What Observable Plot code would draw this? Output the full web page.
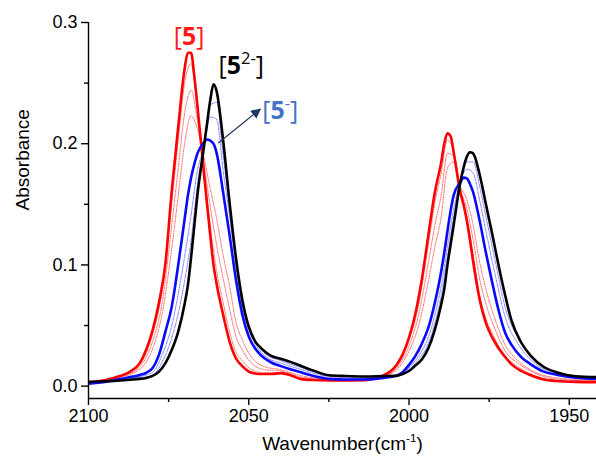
<!DOCTYPE html>
<html><head><meta charset="utf-8">
<script src="https://cdn.jsdelivr.net/npm/d3@7"></script>
<script src="https://cdn.jsdelivr.net/npm/@observablehq/plot@0.6"></script>
<style>
html,body{margin:0;padding:0;background:#fff;}
#chart{width:596px;height:460px;}
</style></head><body><div id="chart"></div>
<script>
// ---- data ----
const wavenumber = [2100,2095,2090,2087,2084,2082,2080,2078,2076,2074,2072,2070,2069,2068,2067,2066,2064,2063,2062,2061,2060,2058,2056,2054,2052,2050,2048,2046,2043,2040,2037,2034,2030,2025,2020,2014,2008,2004,2002,2000,1998,1996,1994,1992,1990,1989,1988,1987,1986,1984,1983,1982,1981,1980,1978,1976,1974,1972,1970,1968,1965,1962,1958,1954,1948,1941];
const abs5 = [.003,.0048,.0085,.012,.019,.030,.046,.069,.101,.162,.214,.262,.275,.275,.256,.231,.176,.150,.124,.100,.084,.059,.037,.023,.0165,.012,.0105,.010,.010,.0107,.009,.006,.005,.0047,.0047,.005,.0088,.017,.026,.040,.060,.088,.124,.159,.184,.200,.2085,.206,.192,.160,.150,.137,.121,.103,.072,.052,.040,.031,.024,.018,.0125,.009,.0055,.0042,.0035,.0033];
const abs5m = [.002,.0035,.0058,.0075,.0092,.011,.015,.026,.045,.066,.100,.138,.157,.172,.183,.192,.201,.2035,.2025,.200,.192,.160,.125,.088,.059,.041,.031,.025,.0195,.0165,.014,.0116,.0085,.006,.0055,.0055,.0068,.0085,.0115,.0175,.025,.035,.048,.068,.094,.110,.128,.145,.158,.168,.172,.1715,.167,.160,.137,.110,.085,.062,.044,.034,.024,.018,.012,.0095,.007,.006];
const abs52 = [.0035,.004,.0047,.0053,.006,.0068,.0085,.012,.019,.030,.045,.068,.083,.106,.132,.158,.197,.217,.236,.249,.243,.203,.152,.106,.071,.049,.037,.031,.025,.0225,.020,.017,.013,.009,.0084,.008,.0083,.0085,.010,.0125,.017,.022,.031,.046,.067,.080,.100,.117,.134,.168,.180,.189,.193,.192,.175,.150,.125,.099,.075,.054,.036,.025,.016,.0115,.0082,.0074];

const wavenumberDotted = [2100,2090,2084,2080,2077,2074,2072,2070,2068,2066,2064,2062,2060,2058,2056,2054,2052,2049,2045,2040,2034,2026,2016,2008,2003,2000,1997,1994,1992,1990,1988,1986,1984,1982,1980,1978,1976,1973,1970,1966,1961,1954,1941];
const redDotted1 = [.003,.0082,.018,.043,.079,.152,.203,.250,.266,.227,.179,.132,.095,.069,.045,.028,.021,.0135,.011,.011,.0066,.0049,.0049,.0088,.021,.038,.067,.116,.150,.175,.203,.193,.161,.140,.109,.075,.056,.038,.025,.016,.009,.0047,.0036];
const redDotted2 = [.0027,.0077,.016,.037,.069,.133,.180,.225,.244,.219,.184,.148,.116,.089,.064,.041,.030,.0185,.0136,.0125,.0077,.0054,.005,.0083,.018,.033,.059,.101,.132,.157,.192,.190,.163,.147,.121,.089,.068,.046,.029,.019,.011,.0058,.0041];
const redDotted3 = [.0025,.0072,.014,.031,.060,.114,.157,.200,.223,.212,.189,.163,.138,.108,.083,.053,.038,.0235,.016,.0136,.0088,.0059,.0052,.0079,.016,.029,.050,.086,.114,.139,.180,.185,.165,.154,.133,.103,.080,.054,.034,.021,.012,.0069,.0047];
const blueDotted1 = [.0027,.0053,.0079,.0114,.026,.050,.076,.107,.141,.178,.197,.222,.220,.178,.1405,.098,.066,.0405,.025,.019,.014,.0083,.0066,.0076,.0095,.015,.025,.040,.058,.082,.115,.147,.1685,.179,.176,.154,.128,.0905,.057,.035,.0195,.0104,.0066];
const blueDotted2 = [.0031,.005,.0069,.009,.020,.040,.060,.087,.120,.166,.197,.232,.234,.191,.146,.103,.068,.0435,.027,.021,.0156,.0092,.0074,.0081,.0092,.0137,.022,.035,.0515,.074,.107,.140,.168,.185,.185,.1655,.140,.102,.065,.040,.0215,.011,.0071];

const xTicks = [2100, 2050, 2000, 1950];
const xMinorTicks = [2075, 2025, 1975];
const yTicks = [0, 0.1, 0.2, 0.3];
const yMinorTicks = [0.05, 0.15, 0.25];
const xDomain = [2100, 1941.5];
const yDomain = [-0.0102, 0.3];

const labelText = ["[5]", "[5²⁻]", "[5⁻]"];
const labelX = [2068.6, 2059.4, 2045.8];
const labelY = [0.288, 0.2638, 0.2266];
const labelColor = ["#ff1a1a", "#000000", "#4472c4"];
const arrowFrom = [2059.5, 0.2006];
const arrowTo = [2046.4, 0.2286];
const xTitle = "Wavenumber(cm⁻¹)";
const yTitle = "Absorbance";

// ---- build tables ----
const series = (xs, ys) => xs.map((x, i) => ({x, y: ys[i]}));
const solid = [
  {d: series(wavenumber, abs5), c: "#ff0000"},
  {d: series(wavenumber, abs5m), c: "#0a0aff"},
  {d: series(wavenumber, abs52), c: "#000000"}
];
const dotted = [
  {d: series(wavenumberDotted, redDotted1), c: "#ff4d4d"},
  {d: series(wavenumberDotted, redDotted2), c: "#ff4d4d"},
  {d: series(wavenumberDotted, redDotted3), c: "#ff4d4d"},
  {d: series(wavenumberDotted, blueDotted1), c: "#5a5aff"},
  {d: series(wavenumberDotted, blueDotted2), c: "#5a5aff"}
];
const labels = labelText.map((t, i) => ({t, x: labelX[i], y: labelY[i], c: labelColor[i]}));

const FONT = "'Liberation Sans', Arial, sans-serif";
const plot = Plot.plot({
  width: 596, height: 460,
  marginLeft: 88, marginRight: 0, marginTop: 22, marginBottom: 62,
  style: {fontFamily: FONT, fontSize: "18px", background: "#fff", color: "#000", overflow: "visible"},
  x: {domain: xDomain},
  y: {domain: yDomain},
  marks: [
    ...dotted.map(s => Plot.line(s.d, {x: "x", y: "y", stroke: s.c, strokeWidth: 1, strokeDasharray: "1.2,1.3", strokeOpacity: 0.85, curve: "monotone-x", clip: true})),
    ...solid.map(s => Plot.line(s.d, {x: "x", y: "y", stroke: s.c, strokeWidth: 2.6, curve: "monotone-x", clip: true})),
    Plot.ruleX([xDomain[0]], {stroke: "#000", strokeWidth: 1.4}),
    Plot.ruleY([yDomain[0]], {stroke: "#000", strokeWidth: 1.4}),
    Plot.axisY({ticks: yTicks, tickFormat: d3.format(".1f"), tickSize: 7, tickPadding: 4, fontSize: 18, label: null, strokeWidth: 1.4}),
    Plot.axisY({ticks: yMinorTicks, tickFormat: () => "", tickSize: 4, label: null, strokeWidth: 1.4}),
    Plot.axisX({ticks: xTicks, tickFormat: d => String(d), tickSize: 7, tickPadding: 4, fontSize: 18, label: null, strokeWidth: 1.4}),
    Plot.axisX({ticks: xMinorTicks, tickFormat: () => "", tickSize: 4, label: null, strokeWidth: 1.4}),
    Plot.text([xTitle], {frameAnchor: "bottom", dy: 51, fontSize: 19, className: "rich-title", fill: "#000"}),
    Plot.text([yTitle], {frameAnchor: "left", dx: -66, rotate: -90, fontSize: 19, fill: "#000"}),
    Plot.link([{x1: arrowFrom[0], y1: arrowFrom[1], x2: arrowTo[0], y2: arrowTo[1]}], {x1: "x1", y1: "y1", x2: "x2", y2: "y2", stroke: "#203864", strokeWidth: 1.2, className: "ann-arrow"}),
    Plot.text(labels, {x: "x", y: "y", text: "t", fill: "c", fontSize: 25, className: "rich-label"})
  ]
});

// ---- rich text (superscripts, bold digit) ----
const supMap = {"²": "2", "⁻": "-", "¹": "1"};
function richify(el, fs, boldDigit, supScale) {
  const s = el.textContent;
  const sel = d3.select(el);
  sel.text(null);
  const runs = [];
  for (const ch of s) {
    const sup = ch in supMap;
    const bold = boldDigit && /[0-9]/.test(ch) && !sup;
    const t = sup ? supMap[ch] : ch;
    const last = runs[runs.length - 1];
    if (last && last.sup === sup && last.bold === bold) last.t += t;
    else runs.push({t, sup, bold});
  }
  let inSup = false;
  const shift = 0.4 * fs;
  for (const r of runs) {
    const ts = sel.append("tspan").text(r.t);
    if (r.sup && !inSup) { ts.attr("dy", -shift); inSup = true; }
    else if (!r.sup && inSup) { ts.attr("dy", shift); inSup = false; }
    if (r.sup) ts.style("font-size", (supScale * fs) + "px");
    if (r.bold) ts.style("font-weight", "bold");
  }
}
d3.select(plot).selectAll("g.rich-title text").each(function() { richify(this, 19, false, 0.62); });
d3.select(plot).selectAll("g.rich-label text").each(function(d, i) {
  d3.select(this).attr("text-anchor", i === 0 ? "middle" : "start").style("font-family", "'Open Sans', 'Noto Sans', sans-serif");
  richify(this, 25, true, 0.66);
});

// filled arrow head
const defs = d3.select(plot).insert("defs", ":first-child");
defs.append("marker").attr("id", "triHead").attr("viewBox", "0 0 10 10")
  .attr("refX", 9).attr("refY", 5).attr("markerWidth", 11).attr("markerHeight", 10)
  .attr("markerUnits", "userSpaceOnUse").attr("orient", "auto")
  .append("path").attr("d", "M0,0L10,5L0,10Z").attr("fill", "#203864");
d3.select(plot).selectAll("g.ann-arrow path").attr("marker-end", "url(#triHead)");

document.getElementById("chart").appendChild(plot);
</script>
</body></html>
